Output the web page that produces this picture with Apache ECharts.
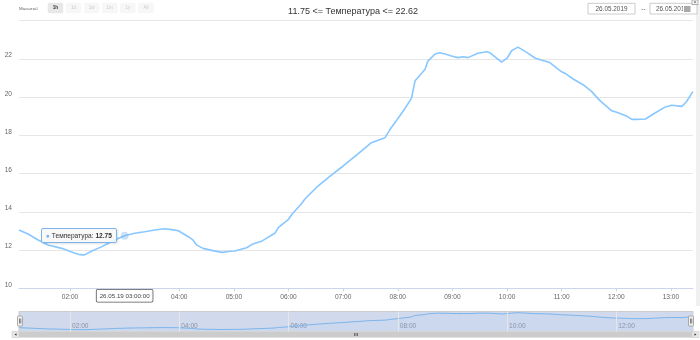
<!DOCTYPE html>
<html><head><meta charset="utf-8">
<script src="https://cdn.jsdelivr.net/npm/echarts@6/dist/echarts.min.js"></script>
<style>html,body{margin:0;padding:0;background:#fff}#c{width:700px;height:340px}</style>
</head><body><div id="c"></div>
<script>
const day = '2019-05-26';
const seriesName = 'Температура';
const times = ['01:04','01:14','01:25','01:36','01:51','02:04','02:11','02:16','02:24','02:35','02:49','03:00','03:11','03:22','03:33','03:44','03:52','03:59','04:10','04:15','04:19','04:26','04:37','04:47','04:56','05:01','05:14','05:20','05:31','05:45','05:49','06:00','06:04','06:14','06:18','06:31','06:45','07:00','07:15','07:31','07:46','07:51','07:59','08:08','08:15','08:19','08:30','08:33','08:41','08:46','08:52','08:59','09:06','09:12','09:17','09:28','09:38','09:41','09:54','10:00','10:05','10:12','10:22','10:31','10:44','10:47','10:55','11:00','11:05','11:13','11:24','11:33','11:42','11:55','12:02','12:11','12:17','12:22','12:32','12:42','12:53','13:01','13:12','13:17','13:24'];
const temps = [13.05,12.84,12.53,12.27,12.09,11.86,11.76,11.75,11.95,12.18,12.53,12.75,12.88,12.96,13.05,13.12,13.07,13.01,12.70,12.53,12.27,12.09,11.97,11.88,11.94,11.95,12.12,12.30,12.48,12.88,13.19,13.61,13.89,14.41,14.67,15.29,15.84,16.40,16.98,17.62,17.88,18.28,18.81,19.42,19.94,20.86,21.46,21.89,22.26,22.33,22.26,22.16,22.07,22.12,22.07,22.30,22.38,22.33,21.83,22.04,22.43,22.62,22.33,22.04,21.86,21.81,21.51,21.33,21.21,20.94,20.64,20.29,19.82,19.29,19.19,19.02,18.84,18.84,18.86,19.16,19.47,19.58,19.52,19.76,20.29];
const rangeButtons = ['1h','1d','1w','1m','1y','All'];
const rangeLabel = 'Масштаб';
const tooltipTime = '03:00';
const dateFrom = '26.05.2019', dateTo = '26.05.2019';

const data = times.map((t,i)=>[new Date(day+'T'+t+':00').getTime(), temps[i]]);
const tMin = data[0][0], tMax = data[data.length-1][0];
const vMin = Math.min(...temps), vMax = Math.max(...temps);
const FONT = 'Liberation Sans, Arial, sans-serif';
const pad = n => (n<10?'0':'')+n;

// navigator grid lines every 2 hours, derived from the data range
const navGrid = [];
{ const d0 = new Date(tMin); d0.setMinutes(0,0,0); d0.setHours(d0.getHours() + (d0.getHours()%2===0?2:1));
  for (let t=d0.getTime(); t<tMax; t+=7200000) navGrid.push({xAxis:t}); }

const chart = echarts.init(document.getElementById('c'), null, {renderer:'canvas'});

const g = [];
g.push({type:'line', shape:{x1:19,y1:20.5,x2:693,y2:20.5}, style:{stroke:'#e6e6e6',lineWidth:1}, silent:true});
g.push({type:'rect', shape:{x:696,y:4,width:4,height:302}, style:{fill:'#f0f0f0'}, silent:true});
g.push({type:'text', x:19, y:8.3, style:{text:rangeLabel, fill:'#666', font:'4.4px '+FONT, verticalAlign:'middle'}});
rangeButtons.forEach((b,i)=>{
  const x = 47.7 + i*18.1;
  const sel = i===0;
  g.push({type:'rect', shape:{x:x,y:2.8,width:15.5,height:10.5,r:1.5}, style:{fill: sel?'#e8e8e8':'#f7f7f7'}});
  g.push({type:'text', x:x+7.75, y:8.1, style:{text:b, fill: sel?'#333':'#cccccc', font:(sel?'bold ':'')+'4.6px '+FONT, align:'center', verticalAlign:'middle'}});
});
g.push({type:'rect', shape:{x:588,y:3.3,width:47,height:10.7}, style:{fill:'#fff', stroke:'#cccccc', lineWidth:1}});
g.push({type:'text', x:611.5, y:8.8, style:{text:dateFrom, fill:'#555', font:'6.4px '+FONT, align:'center', verticalAlign:'middle'}});
g.push({type:'text', x:643.5, y:8.8, style:{text:'--', fill:'#666', font:'6.4px '+FONT, align:'center', verticalAlign:'middle'}});
g.push({type:'rect', shape:{x:650,y:3.3,width:47,height:10.7}, style:{fill:'#fff', stroke:'#cccccc', lineWidth:1}});
g.push({type:'text', x:656, y:8.8, style:{text:dateTo, fill:'#555', font:'6.4px '+FONT, verticalAlign:'middle'}, z:1});
g.push({type:'rect', shape:{x:683,y:5,width:9,height:8}, style:{fill:'#fff'}, z:2});
[7,9,11].forEach(yy=>g.push({type:'line', shape:{x1:684,y1:yy,x2:690.5,y2:yy}, style:{stroke:'#555',lineWidth:1}, z:3}));
g.push({type:'rect', shape:{x:692,y:0,width:6,height:4.5}, style:{fill:'#fff', stroke:'#999', lineWidth:0.8}, z:3});
g.push({type:'text', x:695, y:2.3, style:{text:'×', fill:'#555', font:'6px '+FONT, align:'center', verticalAlign:'middle'}, z:4});
g.push({type:'rect', shape:{x:19,y:311.5,width:674,height:20}, style:{fill:'none', stroke:'#cccccc', lineWidth:1}, z:5});
[20,691].forEach(cx=>{
  g.push({type:'rect', shape:{x:cx-2.5,y:316,width:5,height:10,r:1}, style:{fill:'#f2f2f2', stroke:'#999', lineWidth:0.8}, z:6});
  g.push({type:'line', shape:{x1:cx-0.5,y1:318.5,x2:cx-0.5,y2:323.5}, style:{stroke:'#333',lineWidth:0.6}, z:7});
  g.push({type:'line', shape:{x1:cx+0.8,y1:318.5,x2:cx+0.8,y2:323.5}, style:{stroke:'#333',lineWidth:0.6}, z:7});
});
g.push({type:'rect', shape:{x:12,y:331.5,width:687,height:6}, style:{fill:'#f2f2f2'}, z:5});
g.push({type:'rect', shape:{x:19,y:331.5,width:674,height:6}, style:{fill:'#cccccc'}, z:5});
[354.5,356,357.5].forEach(xx=>g.push({type:'line', shape:{x1:xx,y1:333,x2:xx,y2:336}, style:{stroke:'#333',lineWidth:0.6}, z:6}));
g.push({type:'rect', shape:{x:12,y:331.5,width:7,height:6}, style:{fill:'#e6e6e6', stroke:'#cccccc', lineWidth:0.6}, z:6});
g.push({type:'polygon', shape:{points:[[14.5,334.5],[16.5,333.2],[16.5,335.8]]}, style:{fill:'#333'}, z:7});
g.push({type:'rect', shape:{x:692,y:331.5,width:7,height:6}, style:{fill:'#e6e6e6', stroke:'#cccccc', lineWidth:0.6}, z:6});
g.push({type:'polygon', shape:{points:[[696.5,334.5],[694.5,333.2],[694.5,335.8]]}, style:{fill:'#333'}, z:7});

const option = {
  animation:false,
  backgroundColor:'#fff',
  textStyle:{fontFamily:FONT},
  title:{text: vMin.toFixed(2)+' <= '+seriesName+' <= '+vMax.toFixed(2), left:348, textAlign:'center', top:2.5,
    textStyle:{fontSize:9, fontWeight:'normal', color:'#333', fontFamily:FONT}},
  grid:[
    {left:19, right:7.2, top:20.76, bottom:51.7, containLabel:false},
    {left:19, right:7.2, top:311.5, bottom:8.5, containLabel:false}
  ],
  tooltip:{
    trigger:'axis', triggerOn:'none', alwaysShowContent:true, transitionDuration:0,
    backgroundColor:'rgba(247,247,247,0.9)', borderColor:'#7cb5ec', borderWidth:1, borderRadius:2,
    padding:[2,4], extraCssText:'box-shadow:1px 1px 2px rgba(0,0,0,0.12);line-height:9px;',
    textStyle:{fontSize:6.6, color:'#333', fontFamily:FONT},
    axisPointer:{type:'line', lineStyle:{opacity:0, width:0},
      label:{show:true, backgroundColor:'#fff', borderColor:'#555', borderWidth:0.8, borderRadius:1, padding:[3,3], margin:1.5,
        color:'#444', fontSize:6.2, fontFamily:FONT, shadowBlur:0,
        formatter:function(p){const d=new Date(p.value);return pad(d.getDate())+'.'+pad(d.getMonth()+1)+'.'+String(d.getFullYear()).slice(2)+' '+pad(d.getHours())+':'+pad(d.getMinutes())+':'+pad(d.getSeconds());}}},
    position:function(point, params, dom, rect, size){
      return [point[0]-size.contentSize[0]-8, point[1]-size.contentSize[1]/2];
    },
    formatter:function(ps){
      const p = ps[0];
      return '<span style="color:#7cb5ec">\u25CF</span> '+p.seriesName+': <b>'+p.value[1].toFixed(2)+'</b>';
    }
  },
  xAxis:[
    {type:'time', gridIndex:0, min:tMin, max:tMax, splitNumber:12, minInterval:3600000, maxInterval:3600000,
      axisLine:{show:true, lineStyle:{color:'#ccd6eb', width:1}},
      axisTick:{show:true, length:3, lineStyle:{color:'#ccd6eb'}},
      axisLabel:{formatter:'{HH}:{mm}', fontSize:6.6, color:'#666', margin:5, showMinLabel:false, showMaxLabel:false, hideOverlap:false},
      splitLine:{show:false}},
    {type:'time', gridIndex:1, min:tMin, max:tMax, splitNumber:6, minInterval:7200000, maxInterval:7200000,
      axisPointer:{show:false},
      axisLine:{show:false}, axisTick:{show:false},
      axisLabel:{inside:true, fontSize:6.6, color:'#999', align:'left', margin:2, showMinLabel:false, showMaxLabel:false, padding:[0,0,0,2],
        formatter:function(v){const d=new Date(v); if(d.getMinutes()!==0||d.getHours()%2!==0) return ''; return pad(d.getHours())+':00';}},
      splitLine:{show:false}}
  ],
  yAxis:[
    {type:'value', gridIndex:0, min:10, max:24, interval:2,
      axisLine:{show:false}, axisTick:{show:false},
      axisLabel:{fontSize:6.6, color:'#666', margin:7, showMaxLabel:false, verticalAlign:'bottom'},
      splitLine:{show:true, showMaxLine:false, lineStyle:{color:'#e6e6e6', width:1}}},
    {type:'value', gridIndex:1, min:10.6, max:23.4, show:false, splitLine:{show:false}}
  ],
  series:[
    {name:seriesName, type:'line', xAxisIndex:0, yAxisIndex:0, data:data, showSymbol:false, symbol:'circle', symbolSize:8,
      lineStyle:{color:'#7cb5ec', width:1.6}, itemStyle:{color:'rgba(124,181,236,0.4)'},
      emphasis:{scale:false, lineStyle:{width:1.6}, itemStyle:{color:'rgba(124,181,236,0.4)', borderWidth:0}}},
    {name:'nav', type:'line', xAxisIndex:1, yAxisIndex:1, data:data, showSymbol:false, silent:true,
      lineStyle:{color:'#7cb5ec', width:1}, areaStyle:{color:'rgba(124,181,236,0.08)'},
      emphasis:{disabled:true},
      markLine:{silent:true, symbol:'none', label:{show:false}, lineStyle:{color:'#e6e6e6', width:1, type:'solid'}, data:navGrid},
      markArea:{silent:true, itemStyle:{color:'rgba(102,133,194,0.3)'}, data:[[{xAxis:tMin},{xAxis:tMax}]]}}
  ],
  graphic:g
};
chart.setOption(option);
const tipIndex = times.indexOf(tooltipTime);
function showTip(){ chart.dispatchAction({type:'showTip', seriesIndex:0, dataIndex:tipIndex}); }
showTip();
setTimeout(showTip, 30);
</script></body></html>
